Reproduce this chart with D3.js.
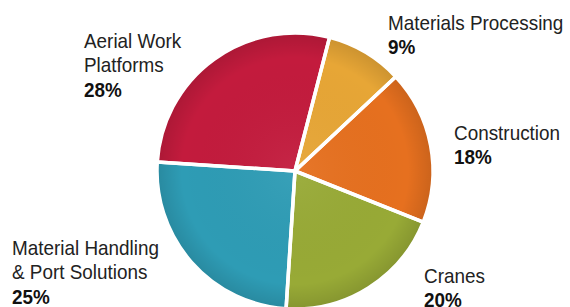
<!DOCTYPE html>
<html>
<head>
<meta charset="utf-8">
<script src="https://cdn.jsdelivr.net/npm/d3@7"></script>
<style>
  body { margin: 0; background: #fff; }
  text { font-family: "Liberation Sans", Arial, sans-serif; fill: #222; }
</style>
</head>
<body>
<div class="chart"></div>
<script>
var width = 570;
var height = 307;

// data, clockwise from the top
var segments = ["Materials Processing", "Construction", "Cranes", "Material Handling & Port Solutions", "Aerial Work Platforms"];
var shares = [9, 18, 20, 25, 28];
var label_lines = [["Materials Processing"], ["Construction"], ["Cranes"], ["Material Handling", "& Port Solutions"], ["Aerial Work", "Platforms"]];
var slice_colors = ["#e7a636", "#e6701f", "#98aa36", "#2e9cb5", "#c31b3d"];

var center = {x: 295, y: 171};
var radius = 138;
var start_angle = 14.5 * Math.PI / 180;

// label anchor points (left edge, baseline of first line)
var label_pos = [
    {x: 388, y: 30},
    {x: 454, y: 140},
    {x: 424, y: 283},
    {x: 12, y: 255},
    {x: 84, y: 48}
];
var line_height = 24.3;

var svg = d3.select(".chart").append("svg")
    .attr("width", width)
    .attr("height", height);

var defs = svg.append("defs");
var shade = defs.append("radialGradient")
    .attr("id", "shade")
    .attr("cx", "50%").attr("cy", "50%").attr("r", "50%");
shade.append("stop").attr("offset", "0%").attr("stop-color", "#fff").attr("stop-opacity", 0.05);
shade.append("stop").attr("offset", "82%").attr("stop-color", "#000").attr("stop-opacity", 0);
shade.append("stop").attr("offset", "100%").attr("stop-color", "#000").attr("stop-opacity", 0.12);

var pie = d3.pie()
    .sort(null)
    .value(d => d)
    .startAngle(start_angle)
    .endAngle(start_angle + 2 * Math.PI);

var arc = d3.arc()
    .innerRadius(0)
    .outerRadius(radius);

var arcs = pie(shares);

var g = svg.append("g")
    .attr("transform", "translate(" + center.x + "," + center.y + ")");

g.selectAll("path.slice")
    .data(arcs)
    .enter()
    .append("path")
    .attr("class", "slice")
    .attr("d", arc)
    .attr("fill", (d, i) => slice_colors[i]);

g.append("circle")
    .attr("r", radius)
    .attr("fill", "url(#shade)");

// white separators
g.selectAll("path.sep")
    .data(arcs)
    .enter()
    .append("path")
    .attr("class", "sep")
    .attr("d", arc)
    .attr("fill", "none")
    .attr("stroke", "#fff")
    .attr("stroke-width", 3.5)
    .attr("stroke-linejoin", "round");

// labels (condensed look: squeeze horizontally)
var labels = svg.append("g").selectAll("g")
    .data(segments)
    .enter()
    .append("g")
    .attr("transform", (d, i) => "translate(" + label_pos[i].x + "," + label_pos[i].y + ") scale(0.9,1)");

labels.each(function(d, i) {
    var el = d3.select(this);
    label_lines[i].forEach((line, j) => {
        el.append("text")
            .attr("y", j * line_height)
            .attr("font-size", "21px")
            .text(line);
    });
    el.append("text")
        .attr("y", label_lines[i].length * line_height)
        .attr("font-size", "21px")
        .attr("font-weight", "bold")
        .style("fill", "#111")
        .text(shares[i] + "%");
});
</script>
</body>
</html>
